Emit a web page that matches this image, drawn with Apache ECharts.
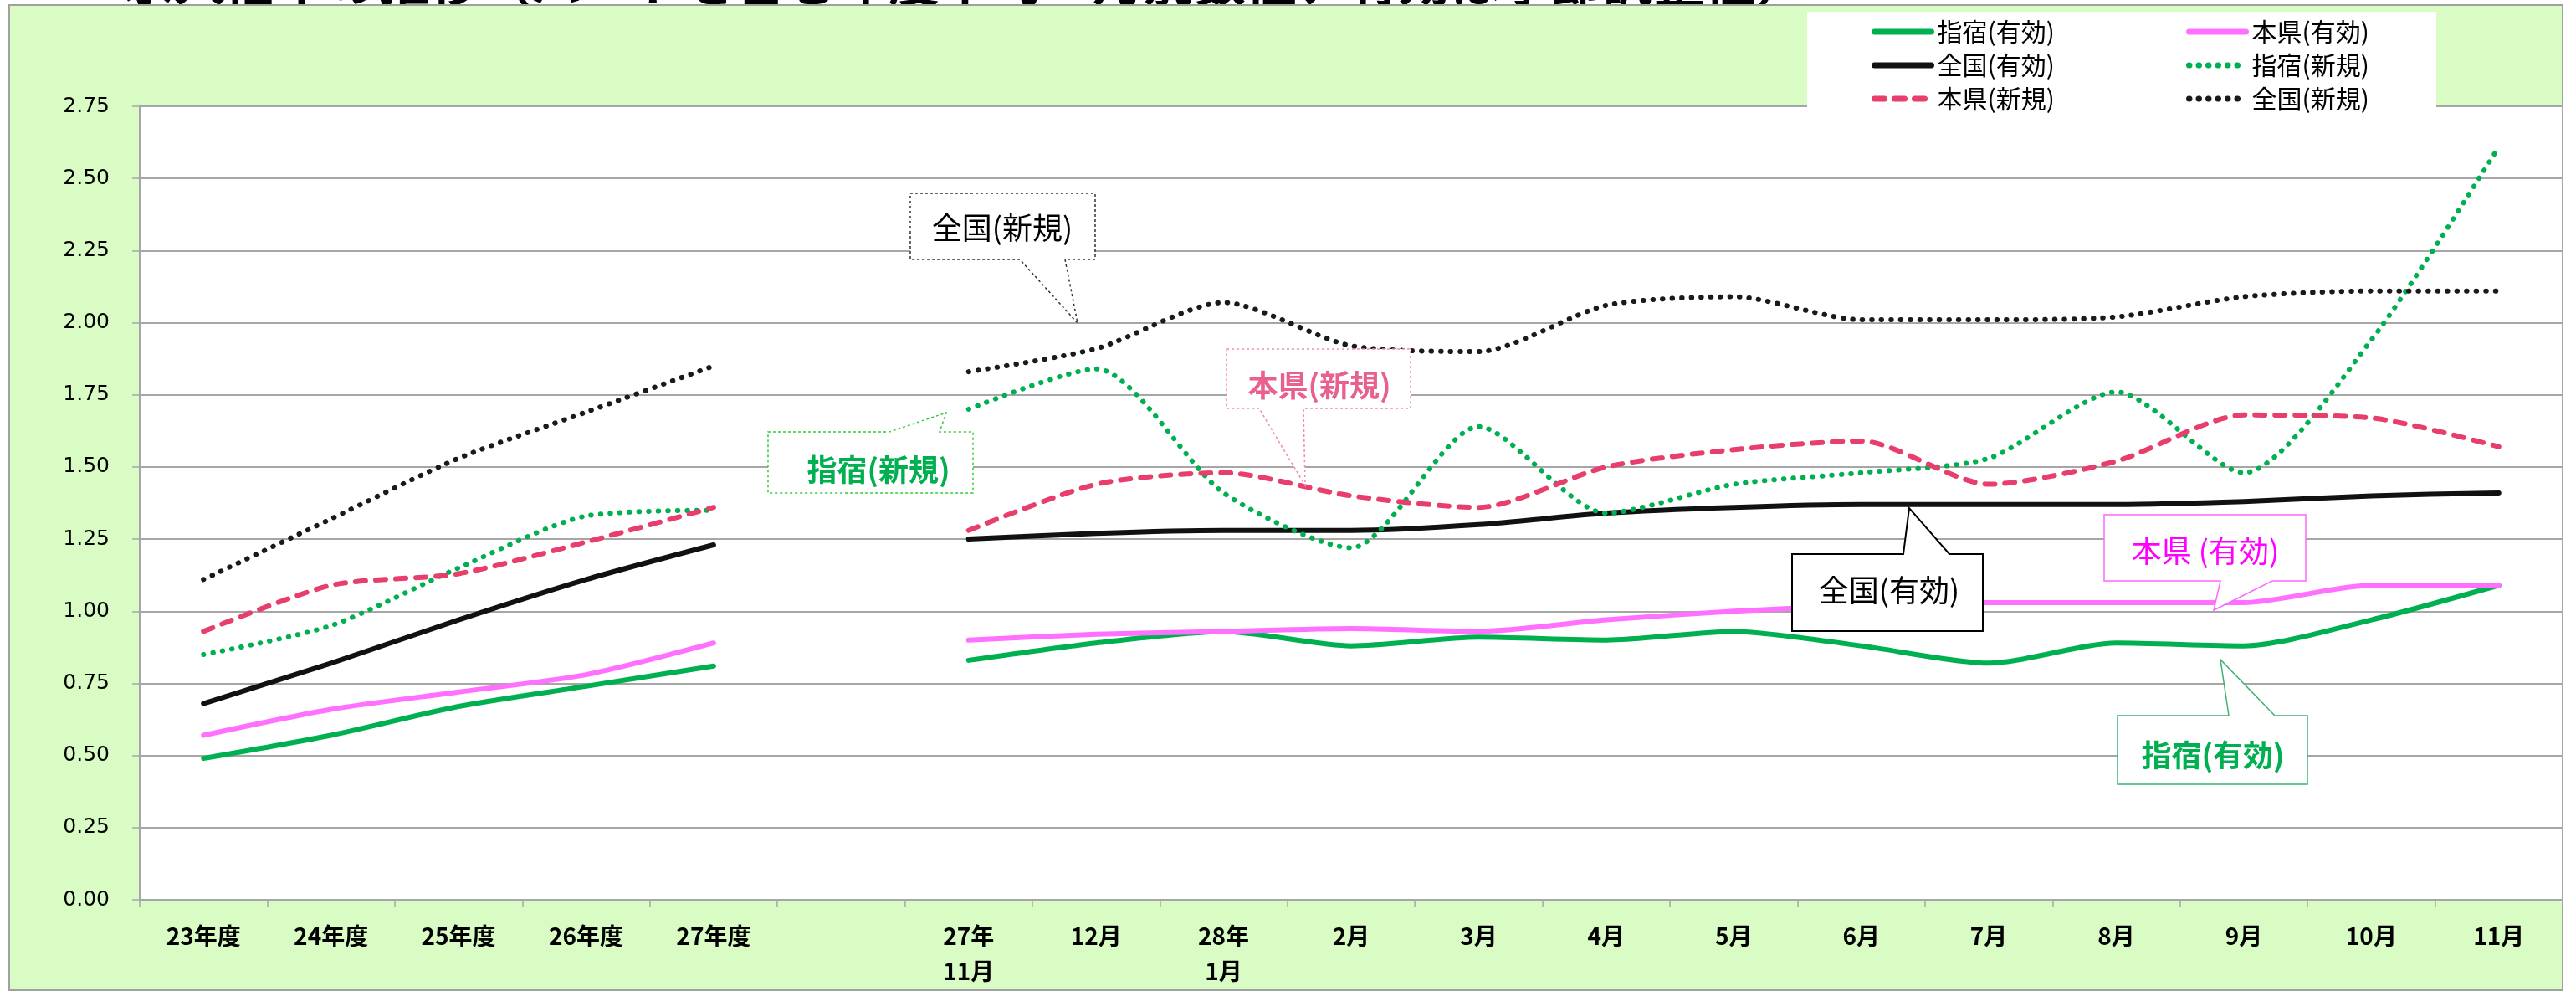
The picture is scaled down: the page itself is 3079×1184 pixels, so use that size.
<!DOCTYPE html>
<html>
<head>
<meta charset="utf-8">
<script src="https://cdn.jsdelivr.net/npm/echarts@6/dist/echarts.min.js"></script>
<style>
html,body{margin:0;padding:0;background:#fff;}
#c{width:3079px;height:1184px;}
</style>
</head>
<body>
<div id="c"></div>
<script>
// ---- data ----
var categories = ['23年度','24年度','25年度','26年度','27年度','','27年\n11月','12月','28年\n1月','2月','3月','4月','5月','6月','7月','8月','9月','10月','11月'];
var yTicks = [0, 0.25, 0.5, 0.75, 1.0, 1.25, 1.5, 1.75, 2.0, 2.25, 2.5, 2.75];
var ibusukiYuko   = [0.49,0.57,0.67,0.74,0.81,null,0.83,0.89,0.93,0.88,0.91,0.90,0.93,0.88,0.82,0.89,0.88,0.97,1.09];
var honkenYuko    = [0.57,0.66,0.72,0.78,0.89,null,0.90,0.92,0.93,0.94,0.93,0.97,1.00,1.02,1.03,1.03,1.03,1.09,1.09];
var zenkokuYuko   = [0.68,0.82,0.97,1.11,1.23,null,1.25,1.27,1.28,1.28,1.30,1.34,1.36,1.37,1.37,1.37,1.38,1.40,1.41];
var ibusukiShinki = [0.85,0.95,1.15,1.33,1.35,null,1.70,1.84,1.41,1.22,1.64,1.34,1.44,1.48,1.53,1.76,1.48,1.94,2.61];
var honkenShinki  = [0.93,1.09,1.13,1.24,1.36,null,1.28,1.44,1.48,1.40,1.36,1.50,1.56,1.59,1.44,1.52,1.68,1.67,1.57];
var zenkokuShinki = [1.11,1.32,1.53,1.69,1.85,null,1.83,1.91,2.07,1.92,1.90,2.06,2.09,2.01,2.01,2.02,2.09,2.11,2.11];
var titleText = '求人倍率の推移（パートを含む年度平均・月別数値、有効は季節調整値）';

var CJK = '"Noto Sans CJK JP", "Noto Sans", sans-serif';
var chart = echarts.init(document.getElementById('c'), null, {renderer: 'canvas'});

function line(name, data, color, width, dash) {
  return {
    name: name, type: 'line', data: data, smooth: 0.25, symbol: 'none',
    connectNulls: false,
    lineStyle: {color: color, width: width, type: dash || 'solid', cap: 'round', join: 'round'},
    itemStyle: {color: color},
    emphasis: {disabled: true}
  };
}

function callout(points, tx, ty, text, stroke, dash, lw, tcolor, bold) {
  return [
    {type: 'polygon', z: 10, shape: {points: points},
     style: {fill: '#ffffff', stroke: stroke, lineWidth: lw, lineDash: dash}},
    {type: 'text', z: 11, x: tx, y: ty,
     style: {text: text, fill: tcolor, font: (bold ? 'bold ' : '') + '36px ' + CJK,
             align: 'center', verticalAlign: 'middle'}}
  ];
}

var graphics = [
  {type: 'text', z: 0, x: 147, y: 9,
   style: {text: titleText, fill: '#000', font: 'bold 61px ' + CJK, align: 'left', verticalAlign: 'bottom'}},
  {type: 'rect', z: 1, shape: {x: 11, y: 6, width: 3052, height: 1177},
   style: {fill: '#d8fcc4', stroke: '#a0a0a0', lineWidth: 2}},
  {type: 'rect', z: 12, shape: {x: 2160, y: 14, width: 752, height: 114},
   style: {fill: '#ffffff', stroke: null}}
];
graphics = graphics
  .concat(callout([[1088,231],[1309,231],[1309,310],[1273,310],[1288,386],[1219,310],[1088,310]],
                  1198, 272, '全国(新規)', '#333', [3,3], 1.5, '#000', false))
  .concat(callout([[918,516],[1063,516],[1131,493],[1123,516],[1163,516],[1163,589],[918,589]],
                  1050, 561, '指宿(新規)', '#33cc33', [3,3], 1.5, '#00b050', true))
  .concat(callout([[1466,417],[1686,417],[1686,488],[1558,488],[1560,580],[1505,488],[1466,488]],
                  1577, 460, '本県(新規)', '#f08cb0', [3,3], 1.5, '#e8608c', true))
  .concat(callout([[2142,662],[2275,662],[2282,607],[2330,662],[2370,662],[2370,754],[2142,754]],
                  2258, 705, '全国(有効)', '#000', null, 2, '#000', false))
  .concat(callout([[2515,615],[2756,615],[2756,694],[2716,694],[2646,729],[2654,694],[2515,694]],
                  2636, 658, '本県 (有効)', '#ff66ff', null, 1.5, '#ff00ff', false))
  .concat(callout([[2531,855],[2664,855],[2654,788],[2719,855],[2758,855],[2758,937],[2531,937]],
                  2645, 902, '指宿(有効)', '#3cb371', null, 1.5, '#00b050', true));

var legendBase = {
  orient: 'vertical', top: 18, itemWidth: 68, itemHeight: 14, itemGap: 10, z: 20,
  selectedMode: false,
  itemStyle: {opacity: 0, borderWidth: 0},
  lineStyle: {width: 7, cap: 'round'},
  textStyle: {fontSize: 30, color: '#000', fontFamily: CJK, padding: [0,0,0,2]}
};

var option = {
  backgroundColor: '#ffffff',
  animation: false,
  graphic: graphics,
  legend: [
    Object.assign({}, legendBase, {left: 2232, data: ['指宿(有効)','全国(有効)','本県(新規)']}),
    Object.assign({}, legendBase, {left: 2608, data: ['本県(有効)','指宿(新規)','全国(新規)']})
  ],
  grid: {left: 167, right: 16, top: 127, bottom: 109, show: true, backgroundColor: '#ffffff',
         borderColor: '#a6a6a6', borderWidth: 2, z: 2},
  xAxis: {
    type: 'category', data: categories, boundaryGap: true, z: 3,
    axisLine: {lineStyle: {color: '#a6a6a6', width: 2}},
    axisTick: {show: true, length: 9, lineStyle: {color: '#a6a6a6', width: 1.5}},
    axisLabel: {interval: 0, margin: 22, color: '#000', fontSize: 28, lineHeight: 42,
                fontFamily: CJK, fontWeight: 'bold'},
    splitLine: {show: false}
  },
  yAxis: {
    type: 'value', min: yTicks[0], max: yTicks[yTicks.length - 1], interval: 0.25, z: 3,
    axisLine: {show: true, lineStyle: {color: '#a6a6a6', width: 2}},
    axisTick: {show: true, length: 9, lineStyle: {color: '#a6a6a6', width: 1.5}},
    axisLabel: {margin: 36, color: '#000', fontSize: 25, fontFamily: '"DejaVu Sans", sans-serif',
                formatter: function (v) { return v.toFixed(2); }},
    splitLine: {show: true, lineStyle: {color: '#a6a6a6', width: 2}}
  },
  series: [
    line('指宿(有効)', ibusukiYuko, '#00b050', 6),
    line('本県(有効)', honkenYuko, '#ff70ff', 6),
    line('全国(有効)', zenkokuYuko, '#111111', 6),
    line('指宿(新規)', ibusukiShinki, '#00b050', 6, [0.5, 11]),
    line('本県(新規)', honkenShinki, '#e83e6c', 6, [12, 12]),
    line('全国(新規)', zenkokuShinki, '#1a1a1a', 6, [0.5, 11])
  ]
};
chart.setOption(option);
</script>
</body>
</html>
